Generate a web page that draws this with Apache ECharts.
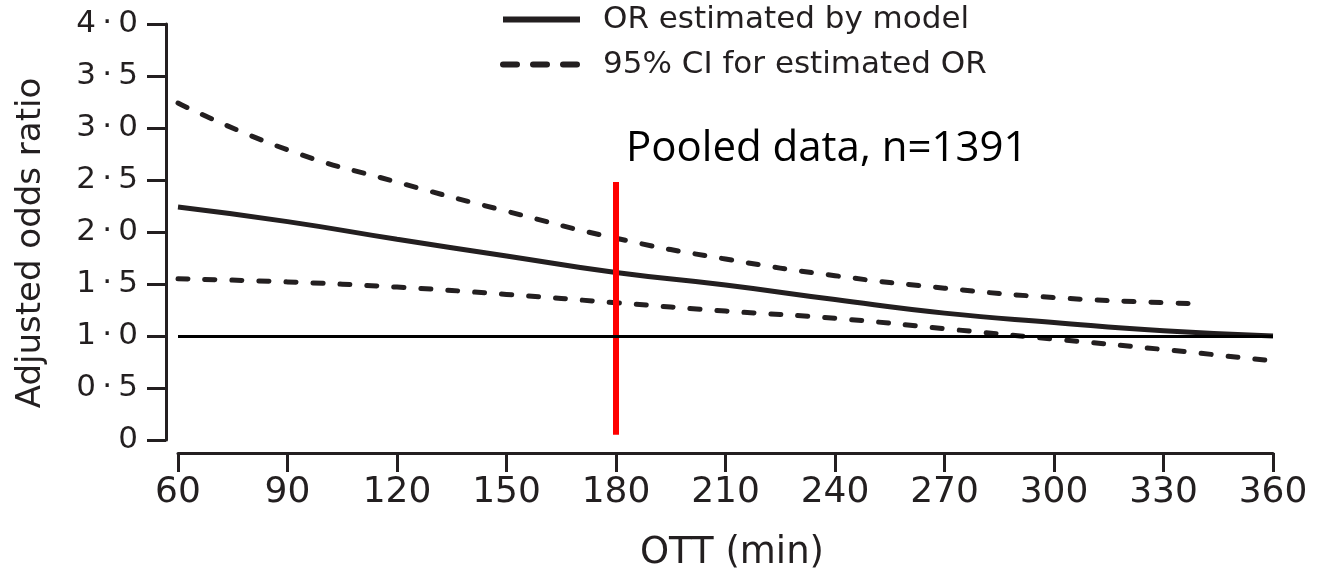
<!DOCTYPE html>
<html>
<head>
<meta charset="utf-8">
<script src="https://cdn.jsdelivr.net/npm/echarts@6/dist/echarts.min.js"></script>
<style>
html,body{margin:0;padding:0;background:#fff;}
#chart{width:1326px;height:571px;}
</style>
</head>
<body>
<div id="chart"></div>
<script>
// OTT (min) sample points
const ott = [60, 90, 120, 150, 180, 210, 240, 270, 300, 330, 360];
// OR estimated by model
const orEstimated = [2.24, 2.10, 1.93, 1.77, 1.61, 1.49, 1.35, 1.22, 1.13, 1.05, 1.00];
// upper 95% CI (ends at 340 min)
const ottUpper = [60, 90, 120, 150, 180, 210, 240, 270, 300, 330, 340];
const ciUpper = [3.24, 2.79, 2.48, 2.20, 1.94, 1.74, 1.58, 1.46, 1.37, 1.32, 1.31];
// lower 95% CI
const ciLower = [1.55, 1.52, 1.47, 1.40, 1.32, 1.24, 1.17, 1.07, 0.97, 0.87, 0.76];
// reference OR line
const refOR = 1.0;
// red marker at 180 min
const markerX = [180, 180];
const markerY = [0.05, 2.48];
const annotation = 'Pooled data, n=1391';
const xTicks = {min: 60, max: 360, interval: 30};
const yTicks = {min: 0, max: 4, interval: 0.5};

const ink = '#231f20';
const font = 'DejaVu Sans';
const zip = (xs, ys) => xs.map((x, i) => [x, ys[i]]);

const chart = echarts.init(document.getElementById('chart'));
chart.setOption({
  animation: false,
  backgroundColor: '#fff',
  title: {
    text: annotation, left: 621, top: 123,
    textStyle: {fontFamily: 'Open Sans', fontSize: 42, fontWeight: 'normal', color: '#000'}
  },
  legend: {
    orient: 'vertical', left: 495, top: -1,
    itemWidth: 77, itemHeight: 28, itemGap: 14,
    itemStyle: {opacity: 0},
    data: [
      {name: 'OR estimated by model', lineStyle: {width: 6, type: 'solid', color: ink}},
      {name: '95% CI for estimated OR', lineStyle: {width: 6, type: [14, 16], color: ink, cap: 'round'}}
    ],
    textStyle: {fontFamily: font, fontSize: 31, color: ink, padding: [0, 0, 0, 18]}
  },
  grid: {left: 178, right: 53, top: 24, bottom: 131, containLabel: false, outerBoundsMode: 'none'},
  xAxis: {
    type: 'value', min: xTicks.min, max: xTicks.max, interval: xTicks.interval,
    offset: 13,
    name: 'OTT (min)', nameLocation: 'middle', nameGap: 82,
    nameTextStyle: {fontFamily: font, fontSize: 37, color: ink, padding: [0, 0, 0, 13]},
    axisLine: {onZero: false, lineStyle: {color: ink, width: 3}},
    axisTick: {length: 19, lineStyle: {color: ink, width: 3}},
    axisLabel: {fontFamily: font, fontSize: 36, color: ink, margin: 22},
    splitLine: {show: false}
  },
  yAxis: {
    type: 'value', min: yTicks.min, max: yTicks.max, interval: yTicks.interval,
    offset: 12,
    name: 'Adjusted odds ratio', nameLocation: 'middle', nameGap: 118,
    nameTextStyle: {fontFamily: font, fontSize: 34, color: ink, padding: [0, 22, 0, 0]},
    axisLine: {onZero: false, lineStyle: {color: ink, width: 3}},
    axisTick: {length: 19, lineStyle: {color: ink, width: 3}},
    axisLabel: {
      fontFamily: font, fontSize: 31, color: ink, margin: 28,
      formatter: v => v === 0 ? '0' : v.toFixed(1).replace('.', '\u2009\u00b7\u2009')
    },
    splitLine: {show: false}
  },
  series: [
    {
      name: 'OR estimated by model', type: 'line', smooth: true, symbol: 'none',
      data: zip(ott, orEstimated),
      lineStyle: {color: ink, width: 5},
      itemStyle: {color: ink},
      z: 3,
      markLine: {
        silent: true, symbol: 'none', label: {show: false},
        lineStyle: {color: '#000', width: 3, type: 'solid'},
        data: [{yAxis: refOR}]
      }
    },
    {
      name: '95% CI for estimated OR', type: 'line', smooth: true, symbol: 'none',
      data: zip(ottUpper, ciUpper),
      lineStyle: {color: ink, width: 5, type: [10, 17], cap: 'round'},
      itemStyle: {color: ink}
    },
    {
      name: '95% CI for estimated OR', type: 'line', smooth: true, symbol: 'none',
      data: zip(ott, ciLower),
      lineStyle: {color: ink, width: 5, type: [10, 17], cap: 'round'},
      itemStyle: {color: ink}
    },
    {
      name: 'marker', type: 'line', symbol: 'none',
      data: zip(markerX, markerY),
      lineStyle: {color: '#ff0000', width: 6},
      itemStyle: {color: '#ff0000'},
      z: 4
    }
  ]
});
</script>
</body>
</html>
